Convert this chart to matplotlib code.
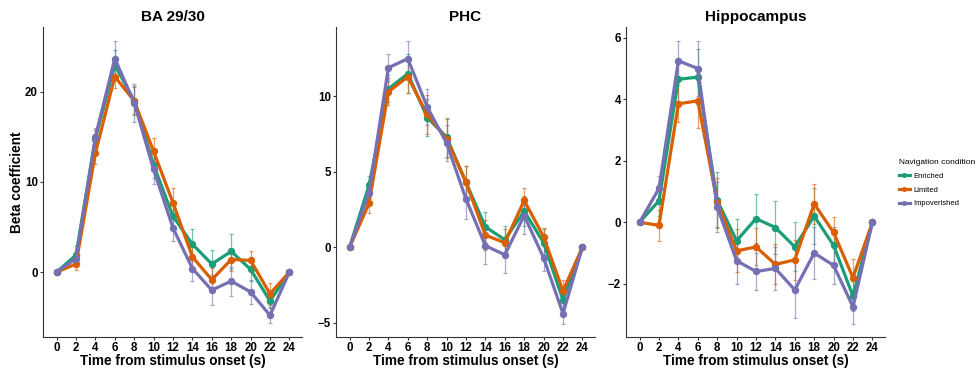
import matplotlib
matplotlib.use("Agg")
import matplotlib.pyplot as plt
import numpy as np

plt.rcParams['font.family'] = ['Liberation Sans', 'DejaVu Sans']

time = [0, 2, 4, 6, 8, 10, 12, 14, 16, 18, 20, 22, 24]
regions = ["BA 29/30", "PHC", "Hippocampus"]
conditions = ["Enriched", "Limited", "Impoverished"]
colors = ["#1B9E77", "#D95F02", "#7570B3"]

# BA 29/30
ba_enriched = [0, 1.9, 14.8, 23.0, 19.0, 11.9, 6.2, 3.1, 0.9, 2.3, 0.3, -3.2, 0]
ba_limited = [0, 0.9, 13.2, 21.7, 19.0, 13.4, 7.7, 1.7, -0.85, 1.4, 1.3, -2.4, 0]
ba_impov = [0, 1.5, 15.0, 23.7, 18.8, 11.4, 4.9, 0.4, -2.0, -1.0, -2.2, -4.8, 0]
ba_enriched_se = [0, 1.0, 1.0, 1.6, 1.6, 1.5, 1.5, 1.7, 1.6, 1.9, 1.3, 0.8, 0]
ba_limited_se = [0, 0.7, 1.2, 1.3, 1.5, 1.5, 1.6, 1.5, 1.3, 1.3, 1.0, 1.2, 0]
ba_impov_se = [0, 0.8, 1.0, 1.9, 2.1, 1.6, 1.5, 1.4, 1.7, 1.6, 1.3, 0.9, 0]

# PHC
phc_enriched = [0, 4.1, 10.5, 11.5, 8.6, 7.3, 4.3, 1.35, 0.5, 2.4, 0.3, -3.5, 0]
phc_limited = [0, 2.9, 10.3, 11.3, 8.8, 7.2, 4.3, 0.8, 0.3, 3.1, 0.7, -2.9, 0]
phc_impov = [0, 3.6, 11.9, 12.5, 9.3, 6.9, 3.2, 0.1, -0.5, 2.1, -0.7, -4.4, 0]
phc_enriched_se = [0, 0.6, 0.9, 1.3, 1.2, 1.3, 1.1, 1.0, 0.9, 1.0, 0.9, 0.7, 0]
phc_limited_se = [0, 0.6, 0.9, 1.1, 1.3, 1.3, 1.1, 1.0, 0.9, 0.8, 0.6, 0.7, 0]
phc_impov_se = [0, 0.7, 0.9, 1.2, 1.2, 1.2, 1.3, 1.2, 1.2, 1.2, 0.9, 0.7, 0]

# Hippocampus
hip_enriched = [0, 0.7, 4.65, 4.72, 0.72, -0.6, 0.12, -0.17, -0.8, 0.2, -0.75, -2.4, 0]
hip_limited = [0, -0.1, 3.85, 3.95, 0.65, -0.93, -0.8, -1.37, -1.22, 0.6, -0.33, -1.8, 0]
hip_impov = [0, 1.1, 5.25, 5.0, 0.5, -1.25, -1.6, -1.5, -2.2, -1.0, -1.4, -2.75, 0]
hip_enriched_se = [0, 0.5, 0.7, 0.9, 0.9, 0.7, 0.8, 0.85, 0.8, 0.9, 0.6, 0.5, 0]
hip_limited_se = [0, 0.5, 0.6, 0.9, 0.8, 0.7, 0.6, 0.65, 0.65, 0.65, 0.5, 0.6, 0]
hip_impov_se = [0, 0.4, 0.65, 0.9, 0.8, 0.75, 0.6, 0.7, 0.9, 0.85, 0.6, 0.55, 0]

means = [
    [ba_enriched, ba_limited, ba_impov],
    [phc_enriched, phc_limited, phc_impov],
    [hip_enriched, hip_limited, hip_impov],
]
errs = [
    [ba_enriched_se, ba_limited_se, ba_impov_se],
    [phc_enriched_se, phc_limited_se, phc_impov_se],
    [hip_enriched_se, hip_limited_se, hip_impov_se],
]
ylims = [(-7.2, 27.2), (-5.95, 14.6), (-3.73, 6.35)]
yticks = [[0, 10, 20], [-5, 0, 5, 10], [-2, 0, 2, 4, 6]]

fig = plt.figure(figsize=(9.77, 3.68), dpi=100)
lefts = [43, 336, 626]
width = 259
bottom = 337
top = 27

for i in range(3):
    ax = fig.add_axes([lefts[i] / 977, 1 - bottom / 368, width / 977, (bottom - top) / 368])
    for j in range(3):
        ax.errorbar(time, means[i][j], yerr=errs[i][j], fmt='none', ecolor=colors[j],
                    elinewidth=0.9, capsize=1.5, capthick=0.9, alpha=0.6, zorder=2)
        ax.plot(time, means[i][j], color=colors[j], lw=2.3, marker='o', ms=4.3,
                label=conditions[j], zorder=3)
    ax.set_xlim(-1.4, 25.3)
    ax.set_ylim(*ylims[i])
    ax.set_xticks(time)
    ax.set_yticks(yticks[i])
    ax.tick_params(labelsize=8.3, color='#333333', length=2.5, width=0.8, pad=1.2)
    for lab in ax.get_xticklabels() + ax.get_yticklabels():
        lab.set_fontweight('bold')
    ax.spines['top'].set_visible(False)
    ax.spines['right'].set_visible(False)
    ax.spines['left'].set_color('#333333')
    ax.spines['bottom'].set_color('#333333')
    ax.set_title(regions[i], fontsize=11, fontweight='bold', pad=4)
    ax.set_xlabel("Time from stimulus onset (s)", fontsize=9.8, fontweight='bold', labelpad=0)
    if i == 0:
        ax.set_ylabel("Beta coefficient", fontsize=9.8, fontweight='bold')
        ax.yaxis.set_label_coords(-0.072, 0.5)

handles, labels = ax.get_legend_handles_labels()
fig.legend(handles, labels, title="Navigation condition", loc='upper left',
           bbox_to_anchor=(892 / 977, 1 - 152 / 368), frameon=False, fontsize=5.5,
           title_fontsize=6, handlelength=1.4, markerscale=0.6, alignment='left',
           labelspacing=0.85, handletextpad=0.5)

fig.savefig("out.png", dpi=100)
